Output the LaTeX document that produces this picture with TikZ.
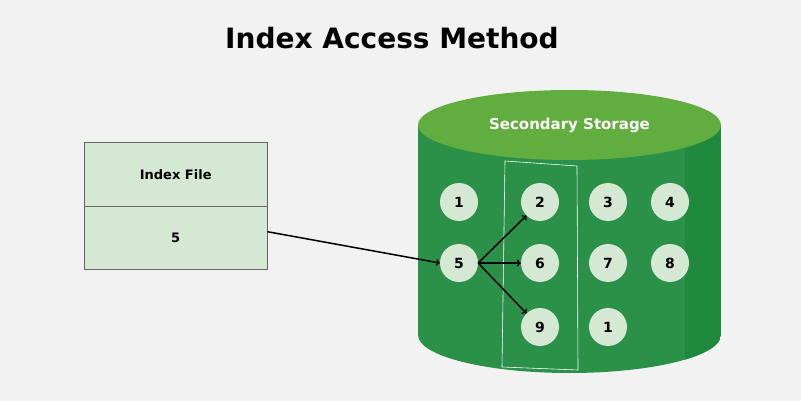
\documentclass[tikz,border=0pt]{standalone}
\usepackage{fontspec}
\setmainfont{DejaVu Sans}
\begin{document}
\begin{tikzpicture}[x=1pt,y=-1pt,
 circ/.style={circle,fill=circfill,minimum size=38pt,inner sep=0pt,font=\bfseries\fontsize{14}{14}\selectfont},
 arr/.style={->,line width=1.5pt,>=to},
 box/.style={draw=gray!80!black,fill=circfill,minimum width=183pt,inner sep=0pt,font=\bfseries\fontsize{13}{13}\selectfont}]
\definecolor{circfill}{HTML}{D5E8D4}
\definecolor{body}{HTML}{2B9149}
\definecolor{bodyr}{HTML}{1F8A3D}
\definecolor{topc}{HTML}{62AD3F}
\useasboundingbox (0,0) rectangle (801,401);
\fill[gray!10] (0,0) rectangle (801,401);
\node[font=\bfseries\fontsize{28}{28}\selectfont] (title) at (392,38) {Index Access Method};
% cylinder
\begin{scope}
\clip (418,125) -- (418,335) arc[start angle=180,end angle=0,x radius=151.5,y radius=38] -- (721,125) -- cycle;
\fill[body] (418,80) rectangle (721,380);
\fill[bodyr] (685,80) rectangle (721,380);
\end{scope}
\fill[topc] (569.5,125) ellipse[x radius=151.5,y radius=35];
\node[font=\bfseries\fontsize{15}{15}\selectfont,text=white] (ss) at (569.5,125) {Secondary Storage};
\draw[white,line width=0.6pt] (505,161) -- (577,166) -- (578,370) -- (502,367) -- cycle;
% index file
\node[box,minimum height=64pt,anchor=north west] (if) at (84,142) {Index File};
\node[box,minimum height=63pt,anchor=north west] (five) at (84,206) {5};
\node[circ] (a1) at (459,202) {1};
\node[circ] (a2) at (540,202) {2};
\node[circ] (a3) at (608,202) {3};
\node[circ] (a4) at (670,202) {4};
\node[circ] (a5) at (459,263) {5};
\node[circ] (a6) at (540,263) {6};
\node[circ] (a7) at (608,263) {7};
\node[circ] (a8) at (670,263) {8};
\node[circ] (a9) at (540,327) {9};
\node[circ] (b1) at (608,327) {1};
\draw[arr] (five.east) ++(0,-6) coordinate (s) -- (a5.west);
\draw[arr] (a5.east) -- (a2.south west);
\draw[arr] (a5.east) -- (a6.west);
\draw[arr] (a5.east) -- (a9.north west);
\end{tikzpicture}
\end{document}
